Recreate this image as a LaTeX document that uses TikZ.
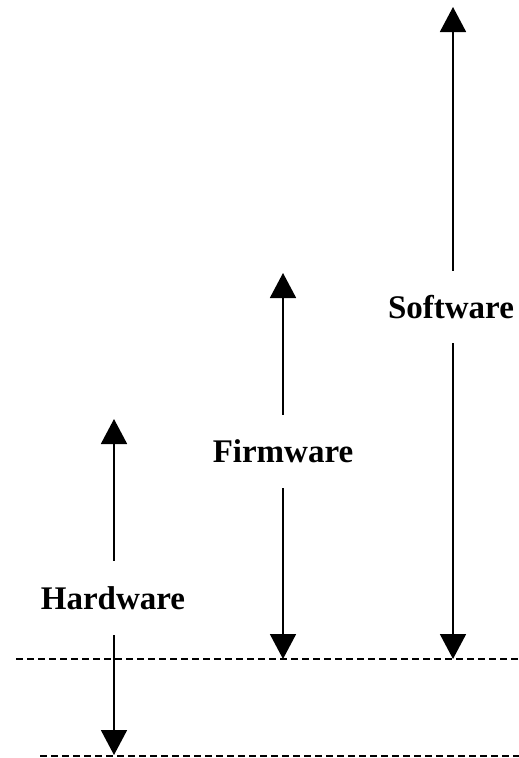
\documentclass[tikz,border=0pt]{standalone}
\usepackage{fontspec}
\setmainfont{Liberation Serif}
\usetikzlibrary{arrows.meta}
\begin{document}
\begin{tikzpicture}[x=1pt,y=1pt,
  arr/.style={line width=1.8pt,-{Triangle[width=26pt,length=25pt]}},
  dashline/.style={line width=1.6pt,dash pattern=on 7pt off 4pt},
  lbl/.style={font=\fontsize{33}{36}\selectfont\bfseries,inner sep=0pt,text depth=0pt}]
\useasboundingbox (0,0) rectangle (519,-758);
% labels (node height = gap in the arrow)
\node[lbl,minimum height=74pt] (hw) at (113,-598) {Hardware};
\node[lbl,minimum height=73pt] (fw) at (283,-451.5) {Firmware};
\node[lbl,minimum height=72pt] (sw) at (451,-307) {Software};
% tips
\coordinate (hwtop) at (114,-419);
\coordinate (hwbot) at (114,-755);
\coordinate (fwtop) at (283,-273);
\coordinate (fwbot) at (283,-659);
\coordinate (swtop) at (453,-7);
\coordinate (swbot) at (453,-659);
% dashed lines
\coordinate (d1l) at (16,-659);
\coordinate (d1r) at (519,-659);
\coordinate (d2l) at (40,-756);
\coordinate (d2r) at (519,-756);
\draw[dashline] (d1l) -- (d1r);
\draw[dashline] (d2l) -- (d2r);
% arrows
\draw[arr] (hw.north -| hwtop) -- (hwtop);
\draw[arr] (hw.south -| hwbot) -- (hwbot);
\draw[arr] (fw.north -| fwtop) -- (fwtop);
\draw[arr] (fw.south -| fwbot) -- (fwbot);
\draw[arr] (sw.north -| swtop) -- (swtop);
\draw[arr] (sw.south -| swbot) -- (swbot);
\end{tikzpicture}
\end{document}
